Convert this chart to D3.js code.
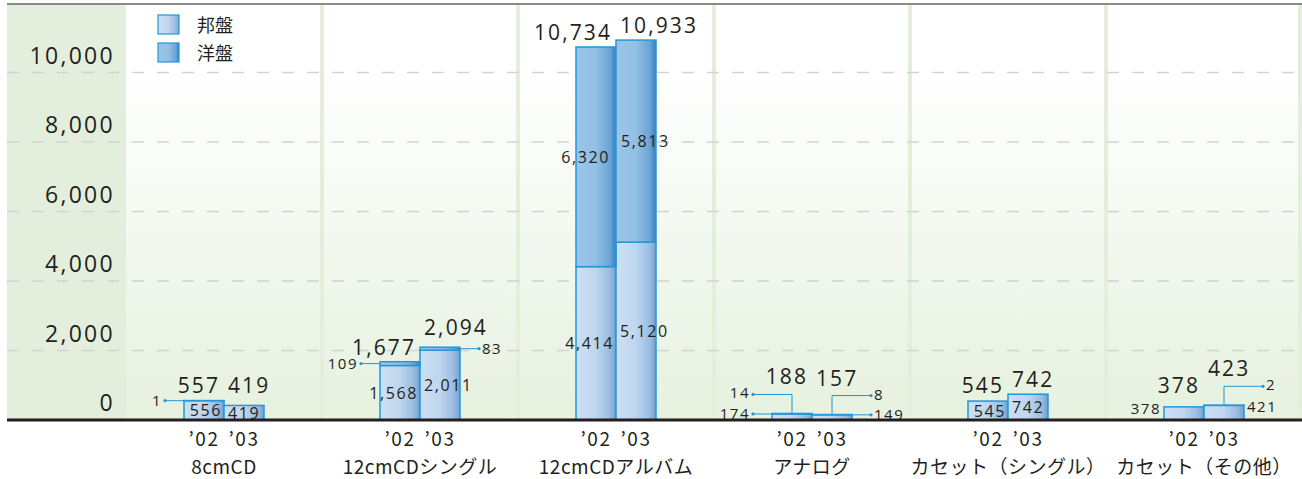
<!DOCTYPE html>
<html>
<head>
<meta charset="utf-8">
<script src="https://cdn.jsdelivr.net/npm/d3@7"></script>
<style>
    html, body { margin: 0; padding: 0; background: #fff; }
    svg { display: block; }
    .num { font-family: "Open Sans", "Noto Sans", sans-serif; fill: #231f20; letter-spacing: 0.1em; }
    .jp { font-family: "Noto Sans CJK JP", sans-serif; fill: #231f20; }
</style>
</head>
<body>
<svg id="chart" width="1302" height="479"></svg>
<script>
'use strict';

var categories = ['8cmCD', '12cmCDシングル', '12cmCDアルバム', 'アナログ', 'カセット（シングル）', 'カセット（その他）'];
var years = ['’02', '’03'];
var seriesNames = ['邦盤', '洋盤'];

// 邦盤 / 洋盤 / total, per category
var domestic02 = [556, 1568, 4414, 174, 545, 378];
var foreign02 = [1, 109, 6320, 14, 0, 0];
var total02 = [557, 1677, 10734, 188, 545, 378];
var domestic03 = [419, 2011, 5120, 149, 742, 421];
var foreign03 = [0, 83, 5813, 8, 0, 2];
var total03 = [419, 2094, 10933, 157, 742, 423];

var yTicks = [0, 2000, 4000, 6000, 8000, 10000];

// where the small 邦盤 labels go (default: inside the bar)
var domesticPlacement = { 'アナログ': 'leader', 'カセット（その他）': 'outside' };

var W = 1302;
var LEFT = 7, TOP = 4, BASE = 420;
var svg = d3.select('#chart');
var fmt = d3.format(',');

var x = d3.scaleBand().domain(categories).range([126, W]);
var xYear = d3.scaleBand().domain(years).range([-40, 40]);
var y = d3.scaleLinear().domain([0, 10000]).range([BASE, 72.5]);

var defs = svg.append('defs');

function hGrad(id, stops) {
    var g = defs.append('linearGradient').attr('id', id)
        .attr('x1', 0).attr('y1', 0).attr('x2', 1).attr('y2', 0);
    stops.forEach(function (s) {
        g.append('stop').attr('offset', s[0]).attr('stop-color', s[1]);
    });
}
hGrad('gDom', [[0, '#cde0f3'], [0.5, '#bfd6ee'], [0.85, '#98bce0'], [1, '#6fa2d0']]);
hGrad('gFor', [[0, '#9cc6e8'], [0.5, '#92bfe4'], [0.85, '#6aa4d4'], [1, '#2f80c2']]);
var bg = defs.append('linearGradient').attr('id', 'gBg')
    .attr('x1', 0).attr('y1', 0).attr('x2', 0).attr('y2', 1);
bg.append('stop').attr('offset', 0.15).attr('stop-color', '#ffffff');
bg.append('stop').attr('offset', 1).attr('stop-color', '#e6f1df');

var fills = { '邦盤': 'url(#gDom)', '洋盤': 'url(#gFor)' };
var EDGE = '#2596d9';

// background, left panel, separators
svg.append('rect').attr('x', LEFT).attr('y', TOP).attr('width', W - LEFT).attr('height', BASE - TOP)
    .attr('fill', 'url(#gBg)');
svg.append('rect').attr('x', LEFT).attr('y', TOP).attr('width', 126 - LEFT).attr('height', BASE - TOP)
    .attr('fill', '#e3efdc');
svg.selectAll('.sep').data(categories.slice(1).concat(['end'])).enter().append('line')
    .attr('class', 'sep')
    .attr('x1', function (d) { return d === 'end' ? W - 2 : x(d); })
    .attr('x2', function (d) { return d === 'end' ? W - 2 : x(d); })
    .attr('y1', TOP).attr('y2', BASE)
    .attr('stroke', '#e3efdb').attr('stroke-width', 4);

// grid + y labels
svg.selectAll('.grid').data(yTicks.slice(1)).enter().append('line')
    .attr('class', 'grid')
    .attr('x1', LEFT).attr('x2', W).attr('y1', y).attr('y2', y)
    .attr('stroke', '#d2d2d2').attr('stroke-width', 1.5).attr('stroke-dasharray', '12,13');
svg.selectAll('.ytick').data(yTicks).enter().append('text')
    .attr('class', 'num')
    .attr('x', 115).attr('y', function (d) { return y(d) - 9; })
    .attr('text-anchor', 'end').attr('font-size', 23)
    .text(fmt);

// rows: one per category and year
var rows = [];
categories.forEach(function (c, i) {
    [[domestic02, foreign02, total02], [domestic03, foreign03, total03]].forEach(function (s, k) {
        rows.push({ cat: c, year: years[k], k: k, '邦盤': s[0][i], '洋盤': s[1][i], total: s[2][i] });
    });
});
var stacked = d3.stack().keys(seriesNames)(rows);

function center(d) { return x(d.cat) + x.bandwidth() / 2; }
function barX(d) { return center(d) + xYear(d.year); }

svg.selectAll('.series').data(stacked).enter().append('g')
    .attr('class', 'series')
    .attr('fill', function (s) { return fills[s.key]; })
    .selectAll('rect').data(function (s) { return s; }).enter().append('rect')
    .attr('x', function (d) { return barX(d.data); })
    .attr('width', xYear.bandwidth())
    .attr('y', function (d) { return y(d[1]); })
    .attr('height', function (d) { return y(d[0]) - y(d[1]); })
    .attr('stroke', EDGE).attr('stroke-width', 1.5);

var labels = svg.append('g');
var leaders = svg.append('g').attr('stroke', EDGE).attr('stroke-width', 1).attr('fill', 'none');

function num(xp, yp, anchor, size, value) {
    labels.append('text').attr('class', 'num')
        .attr('x', xp).attr('y', yp).attr('text-anchor', anchor).attr('font-size', size)
        .text(fmt(value));
}
function dot(xp, yp) {
    svg.append('circle').attr('cx', xp).attr('cy', yp).attr('r', 1.6).attr('fill', EDGE);
}

rows.forEach(function (d) {
    var c = center(d);
    var left = barX(d), right = left + xYear.bandwidth();
    var side = d.k === 0 ? -1 : 1;
    var outer = d.k === 0 ? left : right;
    var anchorOut = d.k === 0 ? 'end' : 'start';
    var mid = c + xYear(d.year) + xYear.bandwidth() / 2;
    var top = y(d.total);
    var labelY = Math.min(top - 7, 393);
    var place = domesticPlacement[d.cat] || 'inside';

    // 邦盤
    var yd = y(d['邦盤']);
    if (place === 'inside') {
        num(d.k === 0 ? c - 2 : c + 4, (yd + BASE) / 2 + 6, anchorOut, 16, d['邦盤']);
    } else if (place === 'leader') {
        leaders.append('line').attr('x1', outer).attr('x2', outer + side * 19).attr('y1', yd).attr('y2', yd);
        dot(outer + side * 19, yd);
        num(outer + side * 22, yd + 5, anchorOut, 15, d['邦盤']);
    } else {
        num(outer + side * 3, yd + 7, anchorOut, 15, d['邦盤']);
    }

    // 洋盤
    var f = d['洋盤'];
    if (f > 0) {
        var yf = (y(d['邦盤']) + top) / 2;
        if (f >= 1000) {
            num(d.k === 0 ? c - 6 : c + 5, yf + 6, anchorOut, 16, f);
        } else if (place === 'inside') {
            leaders.append('line').attr('x1', outer).attr('x2', outer + side * 19).attr('y1', yf).attr('y2', yf);
            dot(outer + side * 19, yf);
            num(outer + side * 22, yf + 5, anchorOut, 15, f);
            // the '03 total runs over the right-hand callout
            if (d.k === 1) labelY = Math.min(labelY, yf - 14);
        } else {
            var ey = top - 19;
            leaders.append('path')
                .attr('d', ['M', mid, top, 'V', ey, 'H', outer + side * 19].join(' '));
            dot(outer + side * 19, ey);
            num(outer + side * 22, ey + 4, anchorOut, 15, f);
            labelY = Math.min(labelY, ey - 10);
        }
    }

    // total
    num(d.k === 0 ? c - 4 : c + 4, labelY, anchorOut, 21, d.total);

    // year under the bar
    labels.append('text').attr('class', 'jp')
        .attr('x', mid).attr('y', 446).attr('text-anchor', 'middle')
        .attr('font-size', 19).attr('letter-spacing', 1.5)
        .text(d.year);
});

// category names
svg.selectAll('.cat').data(categories).enter().append('text')
    .attr('class', 'jp')
    .attr('x', function (d) { return x(d) + x.bandwidth() / 2; })
    .attr('y', 474).attr('text-anchor', 'middle').attr('font-size', 19)
    .attr('letter-spacing', 0.5)
    .text(function (d) { return d; });

// baseline and top rule
svg.append('line').attr('x1', LEFT).attr('x2', W).attr('y1', BASE).attr('y2', BASE)
    .attr('stroke', '#231f20').attr('stroke-width', 3);
svg.append('line').attr('x1', LEFT).attr('x2', W).attr('y1', TOP).attr('y2', TOP)
    .attr('stroke', '#8a8a8a').attr('stroke-width', 2);

// legend
var legend = svg.selectAll('.legend').data(seriesNames).enter().append('g')
    .attr('class', 'legend')
    .attr('transform', function (d, i) { return 'translate(158,' + (15 + i * 28) + ')'; });
legend.append('rect').attr('width', 21).attr('height', 19)
    .attr('fill', function (d) { return fills[d]; })
    .attr('stroke', EDGE).attr('stroke-width', 1.2);
legend.append('text').attr('class', 'jp')
    .attr('x', 39).attr('y', 17).attr('font-size', 18)
    .text(function (d) { return d; });
</script>
</body>
</html>
